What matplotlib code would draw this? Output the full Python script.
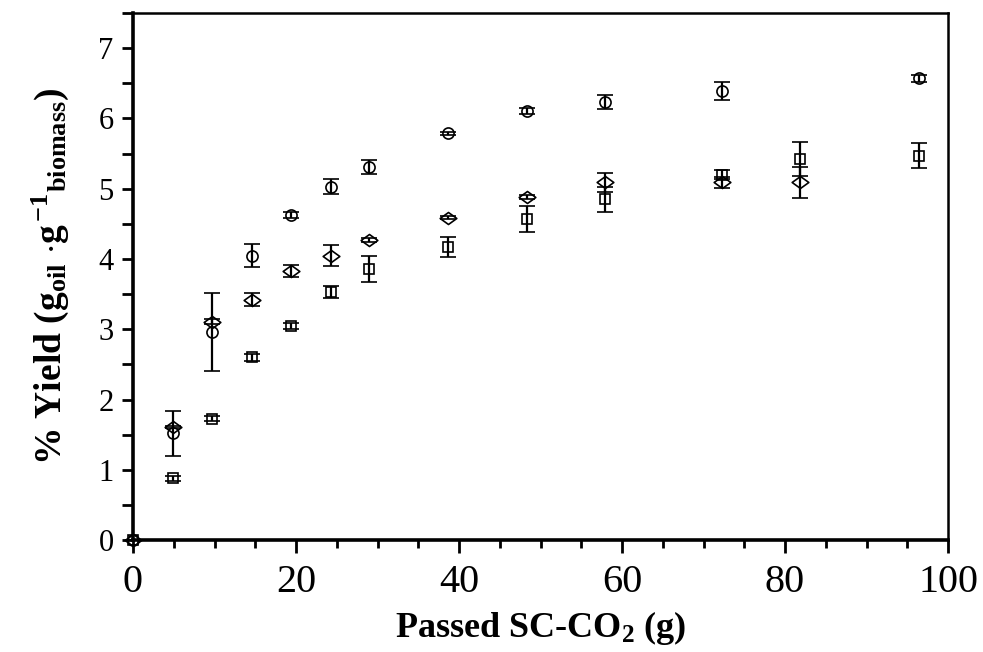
import matplotlib
matplotlib.use("Agg")
import matplotlib.pyplot as plt
from matplotlib.path import Path
from matplotlib.ticker import MultipleLocator

plt.rcParams['font.family'] = ['Liberation Serif', 'DejaVu Serif']
plt.rcParams['mathtext.fontset'] = 'custom'
plt.rcParams['mathtext.rm'] = 'Liberation Serif'
plt.rcParams['mathtext.bf'] = 'Liberation Serif:bold'
plt.rcParams['mathtext.it'] = 'Liberation Serif:italic'

# ---- data ----
circle_x = [0, 4.9, 9.7, 14.6, 19.4, 24.3, 29.0, 38.6, 48.3, 57.9, 72.3, 96.4]
circle_y = [0, 1.52, 2.96, 4.05, 4.63, 5.03, 5.31, 5.79, 6.11, 6.23, 6.39, 6.57]
circle_err = [0, 0.32, 0.55, 0.17, 0.04, 0.11, 0.095, 0.02, 0.04, 0.10, 0.125, 0.05]

diamond_x = [0, 4.9, 9.7, 14.6, 19.4, 24.3, 29.0, 38.6, 48.3, 57.9, 72.3, 81.9]
diamond_y = [0, 1.61, 3.11, 3.42, 3.83, 4.05, 4.27, 4.59, 4.88, 5.09, 5.09, 5.09]
diamond_err = [0, 0.02, 0.03, 0.095, 0.09, 0.15, 0.03, 0.02, 0.03, 0.13, 0.08, 0.22]

square_x = [0, 4.9, 9.7, 14.6, 19.4, 24.3, 29.0, 38.6, 48.3, 57.9, 72.3, 81.9, 96.4]
square_y = [0, 0.88, 1.73, 2.60, 3.05, 3.53, 3.86, 4.17, 4.57, 4.85, 5.20, 5.42, 5.47]
square_err = [0, 0.04, 0.04, 0.05, 0.04, 0.09, 0.19, 0.14, 0.18, 0.18, 0.06, 0.24, 0.18]

x_ticks = [0, 20, 40, 60, 80, 100]
y_ticks = [0, 1, 2, 3, 4, 5, 6, 7]

# wide diamond marker
diamond_marker = Path([(-1, 0), (0, 0.72), (1, 0), (0, -0.72), (-1, 0)],
                      [Path.MOVETO, Path.LINETO, Path.LINETO, Path.LINETO, Path.CLOSEPOLY])

fig = plt.figure(figsize=(9.83, 6.52), dpi=100)
ax = fig.add_axes([0.1353, 0.1715, 0.8291, 0.8085])

common = dict(linestyle='none', color='black', ecolor='black', elinewidth=1.6,
              capsize=6, capthick=1.6, markerfacecolor='none', markeredgecolor='black',
              markeredgewidth=1.2, clip_on=False, zorder=3)

ax.errorbar(square_x, square_y, yerr=square_err, marker='s', markersize=7, **common)
ax.errorbar(diamond_x, diamond_y, yerr=diamond_err, marker=diamond_marker, markersize=12, **common)
ax.errorbar(circle_x, circle_y, yerr=circle_err, marker='o', markersize=8, **common)

ax.set_xlim(0, 100)
ax.set_ylim(0, 7.5)
ax.set_xticks(x_ticks)
ax.set_yticks(y_ticks)
ax.xaxis.set_minor_locator(MultipleLocator(5))
ax.yaxis.set_minor_locator(MultipleLocator(0.5))

ax.tick_params(axis='x', which='major', direction='out', length=9, width=2, labelsize=29, pad=8)
ax.tick_params(axis='x', which='minor', direction='out', length=6, width=2)
ax.tick_params(axis='y', which='major', direction='out', length=8, width=2, labelsize=22, pad=6)
ax.tick_params(axis='y', which='minor', direction='out', length=8, width=2)

for s in ['left', 'bottom']:
    ax.spines[s].set_linewidth(2.6)
for s in ['top', 'right']:
    ax.spines[s].set_linewidth(1.8)

ax.set_xlabel(r'Passed SC-CO$_\mathbf{2}$ (g)', fontsize=26, fontweight='bold', labelpad=6)
ax.set_ylabel(r'% Yield (g$_{\mathbf{oil}}$ $\mathbf{\cdot}$g$^{\,\mathbf{-1}}{}_{\mathbf{biomass}}$)',
              fontsize=27, fontweight='bold', labelpad=20)

fig.savefig('out.png', dpi=100)
